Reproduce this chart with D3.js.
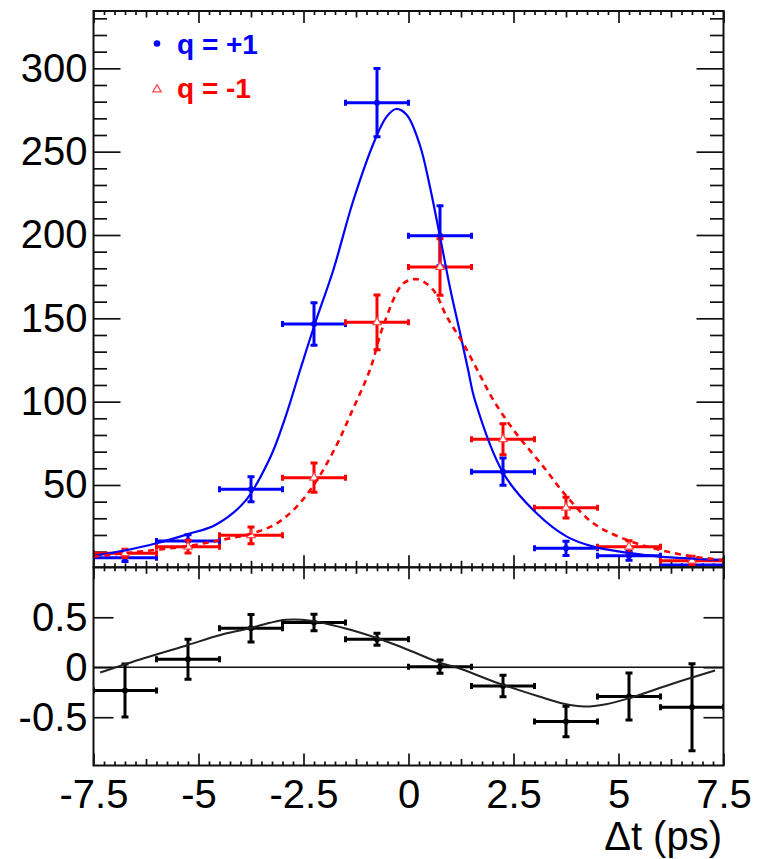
<!DOCTYPE html>
<html>
<head>
<meta charset="utf-8">
<script src="https://cdn.jsdelivr.net/npm/d3@7"></script>
<style>
  html, body { margin: 0; padding: 0; background: #fff; }
  svg { display: block; }
</style>
</head>
<body>
<svg id="chart" width="758" height="859"></svg>
<script>
// Δt bins (ps): bin centres and common bin width
const binCenters = [-6.75, -5.25, -3.75, -2.25, -0.75, 0.75, 2.25, 3.75, 5.25, 6.75];
const binWidth = 1.5;

// Event yields per bin, q = +1
const plusCounts = [6.4, 16.4, 47.4, 146.6, 279.4, 199.6, 58.0, 12.0, 7.6, 2.0];
const plusErrors = [2.3, 3.8, 7.5, 12.8, 20.5, 18.0, 8.2, 4.3, 2.7, 1.2];

// Event yields per bin, q = -1
const minusCounts = [9.0, 13.0, 19.8, 54.4, 147.6, 180.8, 77.4, 36.4, 13.0, 4.6];
const minusErrors = [2.5, 3.8, 5.0, 8.8, 16.4, 17.0, 9.3, 6.2, 3.6, 2.6];

// Fitted Δt distribution, q = +1 (sampled)
const plusFitT = [-7.5, -6.8, -6.0, -5.25, -4.6, -3.9, -3.3, -2.94, -2.58, -2.23, -1.79, -1.31, -0.8, -0.52, -0.3, -0.04, 0.27, 0.51, 0.75, 1.0, 1.23, 1.42, 1.58, 2.26, 3.05, 3.77, 4.4, 5.2, 5.99, 7.5];
const plusFitN = [7.5, 10.5, 15.0, 20.5, 26.0, 40.0, 66.0, 90.0, 119.0, 146.6, 179.0, 221.0, 257.0, 271.0, 275.6, 272.0, 254.0, 229.0, 199.0, 167.0, 141.0, 119.0, 101.0, 57.0, 33.0, 19.0, 13.0, 9.4, 7.0, 5.0];

// Fitted Δt distribution, q = -1 (sampled)
const minusFitT = [-7.5, -6.6, -5.24, -4.46, -3.8, -3.2, -2.7, -2.23, -1.75, -1.35, -0.92, -0.58, -0.12, 0.22, 0.59, 0.91, 1.3, 1.7, 2.02, 2.5, 3.21, 3.77, 4.4, 5.2, 5.99, 6.78, 7.5];
const minusFitN = [7.0, 9.5, 13.4, 17.0, 20.5, 26.0, 36.0, 51.0, 72.0, 94.0, 119.0, 147.0, 171.0, 173.4, 167.0, 151.0, 135.0, 116.0, 101.0, 83.0, 61.0, 43.0, 27.0, 17.0, 11.0, 7.0, 5.0];

// Charge asymmetry per bin
const asymValues = [-0.233, 0.08, 0.39, 0.447, 0.28, 0.006, -0.187, -0.543, -0.293, -0.40];
const asymErrors = [0.265, 0.20, 0.137, 0.083, 0.06, 0.067, 0.108, 0.153, 0.236, 0.436];

// Fitted asymmetry (sampled)
const asymFitT = [-7.34, -6.3, -5.25, -4.5, -3.79, -3.3, -2.91, -2.33, -1.36, -0.6, 0.0, 0.78, 1.17, 2.14, 3.11, 3.7, 4.19, 4.7, 5.25, 6.32, 7.3];
const asymFitA = [-0.053, 0.09, 0.223, 0.32, 0.39, 0.445, 0.475, 0.466, 0.373, 0.27, 0.173, 0.04, -0.005, -0.16, -0.293, -0.365, -0.393, -0.37, -0.31, -0.16, -0.033];

// Axis ticks and labels
const xTickValues = [-7.5, -5, -2.5, 0, 2.5, 5, 7.5];
const countTickValues = [50, 100, 150, 200, 250, 300];
const asymTickValues = [-0.5, 0, 0.5];
const legendLabels = ["q = +1", "q = -1"];
const xAxisTitle = "\u0394t (ps)";

// ---------------------------------------------------------------
const FONT = '"Liberation Sans", Arial, Helvetica, sans-serif';
const BLUE = "#0000ff", RED = "#ff0000", INK = "#111";
const L = 93.5, R = 723.5, T = 11, M = 567.3, B = 765.5;

const svg = d3.select("#chart");

const x = d3.scaleLinear().domain([-7.5, 7.5]).range([L, R]);
const yTop = d3.scaleLinear().domain([0.6, 334.4]).range([M, T]);
const yBot = d3.scaleLinear().domain([-0.983, 1.0]).range([B, M]);

// tick sets along Δt: major every 2.5, medium halfway, minor every 0.25
const xMajor = d3.range(-7.5, 7.51, 2.5);
const xMedium = d3.range(-6.25, 7.5, 2.5);
const xMinor = d3.range(-7.25, 7.5, 0.25).filter(v =>
  !xMajor.some(m => Math.abs(m - v) < 1e-6) && !xMedium.some(m => Math.abs(m - v) < 1e-6));
const yTopMinor = d3.range(10, 334, 10).filter(v => v % 50 !== 0);

function tickGroup(axis, transform) {
  const g = svg.append("g").attr("transform", transform).call(axis);
  g.select(".domain").remove();
  g.selectAll(".tick line").attr("stroke", INK).attr("stroke-width", 1.7);
  g.selectAll(".tick text").remove();
  return g;
}

function xTicks(y, dir) {
  const mk = dir === "down" ? d3.axisBottom : d3.axisTop;
  [[xMajor, 12], [xMedium, 6.5], [xMinor, 4]].forEach(([vals, len]) => {
    tickGroup(mk(x).tickValues(vals).tickSize(len).tickFormat(""), `translate(0,${y})`);
  });
}

// x ticks on all horizontal frame edges
xTicks(T, "down");
xTicks(M, "up");
xTicks(M, "down");
xTicks(B, "up");

// y ticks, upper pad (both sides, pointing inward)
tickGroup(d3.axisRight(yTop).tickValues(countTickValues).tickSize(27).tickFormat(""), `translate(${L},0)`);
tickGroup(d3.axisRight(yTop).tickValues(yTopMinor).tickSize(13.5).tickFormat(""), `translate(${L},0)`);
tickGroup(d3.axisLeft(yTop).tickValues(countTickValues).tickSize(27).tickFormat(""), `translate(${R},0)`);
tickGroup(d3.axisLeft(yTop).tickValues(yTopMinor).tickSize(13.5).tickFormat(""), `translate(${R},0)`);

// y ticks, lower pad
tickGroup(d3.axisRight(yBot).tickValues(asymTickValues).tickSize(20).tickFormat(""), `translate(${L},0)`);
tickGroup(d3.axisLeft(yBot).tickValues(asymTickValues).tickSize(20).tickFormat(""), `translate(${R},0)`);

// tick labels
function labelAxis(axis, transform) {
  const g = svg.append("g").attr("transform", transform).call(axis);
  g.select(".domain").remove();
  g.selectAll(".tick line").remove();
  g.selectAll(".tick text")
    .attr("fill", "#000")
    .style("font-family", FONT)
    .style("font-size", "40px");
  return g;
}
labelAxis(d3.axisBottom(x).tickValues(xTickValues).tickSize(0).tickPadding(14).tickFormat(d => String(d)),
  `translate(0,${B})`);
labelAxis(d3.axisLeft(yTop).tickValues(countTickValues).tickSize(0).tickPadding(6).tickFormat(d => String(d)),
  `translate(${L},0)`);
labelAxis(d3.axisLeft(yBot).tickValues(asymTickValues).tickSize(0).tickPadding(6).tickFormat(d => String(d)),
  `translate(${L},0)`);

// axis title
svg.append("text")
  .attr("x", 722).attr("y", 850)
  .attr("text-anchor", "end")
  .style("font-family", FONT).style("font-size", "40px")
  .text(xAxisTitle);

// clipping regions for the two pads
const defs = svg.append("defs");
defs.append("clipPath").attr("id", "clipTop").append("rect")
  .attr("x", L).attr("y", T).attr("width", R - L).attr("height", M - T);
defs.append("clipPath").attr("id", "clipBot").append("rect")
  .attr("x", L).attr("y", M).attr("width", R - L).attr("height", B - M);

const topPad = svg.append("g").attr("clip-path", "url(#clipTop)");
const botPad = svg.append("g").attr("clip-path", "url(#clipBot)");

// error-bar crosses with end caps
function errorCrosses(g, yScale, values, errors, color) {
  const cap = 3.5, hcap = 3;
  const pts = g.append("g").attr("stroke", color).attr("stroke-width", 3).attr("fill", "none");
  binCenters.forEach((c, i) => {
    const x0 = x(c - binWidth / 2), x1 = x(c + binWidth / 2), xc = x(c);
    const yv = yScale(values[i]);
    const ylo = yScale(values[i] - errors[i]), yhi = yScale(values[i] + errors[i]);
    const p = d3.path();
    p.moveTo(x0, yv); p.lineTo(x1, yv);
    p.moveTo(xc, ylo); p.lineTo(xc, yhi);
    p.moveTo(xc - cap, ylo); p.lineTo(xc + cap, ylo);
    p.moveTo(xc - cap, yhi); p.lineTo(xc + cap, yhi);
    p.moveTo(x0, yv - hcap); p.lineTo(x0, yv + hcap);
    p.moveTo(x1, yv - hcap); p.lineTo(x1, yv + hcap);
    pts.append("path").attr("d", p.toString());
  });
}

const triangle = d3.symbol().type(d3.symbolTriangle).size(30);

// q = +1 points
errorCrosses(topPad, yTop, plusCounts, plusErrors, BLUE);
topPad.append("g").selectAll("circle").data(binCenters).join("circle")
  .attr("cx", d => x(d)).attr("cy", (d, i) => yTop(plusCounts[i]))
  .attr("r", 3).attr("fill", BLUE);

// q = -1 points
errorCrosses(topPad, yTop, minusCounts, minusErrors, RED);
topPad.append("g").selectAll("path").data(binCenters).join("path")
  .attr("d", triangle)
  .attr("transform", (d, i) => `translate(${x(d)},${yTop(minusCounts[i])})`)
  .attr("fill", "#fff").attr("stroke", "#ff4d4d").attr("stroke-width", 1.2);

// fitted curves
const lineTop = d3.line().x(d => x(d[0])).y(d => yTop(d[1])).curve(d3.curveCatmullRom.alpha(0.5));
topPad.append("path")
  .attr("d", lineTop(d3.zip(plusFitT, plusFitN)))
  .attr("fill", "none").attr("stroke", BLUE).attr("stroke-width", 2.2);
topPad.append("path")
  .attr("d", lineTop(d3.zip(minusFitT, minusFitN)))
  .attr("fill", "none").attr("stroke", RED).attr("stroke-width", 2.6)
  .attr("stroke-dasharray", "6,5");

// asymmetry pad: zero line, points, fit
botPad.append("line")
  .attr("x1", L).attr("x2", R).attr("y1", yBot(0)).attr("y2", yBot(0))
  .attr("stroke", INK).attr("stroke-width", 1.5);
errorCrosses(botPad, yBot, asymValues, asymErrors, "#000");
botPad.append("g").selectAll("circle").data(binCenters).join("circle")
  .attr("cx", d => x(d)).attr("cy", (d, i) => yBot(asymValues[i]))
  .attr("r", 3).attr("fill", "#000");
const lineBot = d3.line().x(d => x(d[0])).y(d => yBot(d[1])).curve(d3.curveCatmullRom.alpha(0.5));
botPad.append("path")
  .attr("d", lineBot(d3.zip(asymFitT, asymFitA)))
  .attr("fill", "none").attr("stroke", "#222").attr("stroke-width", 2);

// frames
svg.append("rect").attr("x", L).attr("y", T).attr("width", R - L).attr("height", M - T)
  .attr("fill", "none").attr("stroke", INK).attr("stroke-width", 2);
svg.append("rect").attr("x", L).attr("y", M).attr("width", R - L).attr("height", B - M)
  .attr("fill", "none").attr("stroke", INK).attr("stroke-width", 2);

// legend
const legend = svg.append("g");
legend.append("circle").attr("cx", 157).attr("cy", 43.5).attr("r", 3.3).attr("fill", BLUE);
legend.append("path").attr("d", triangle).attr("transform", "translate(157,89.5)")
  .attr("fill", "#fff").attr("stroke", "#ff4d4d").attr("stroke-width", 1.3);
legend.selectAll("text").data(legendLabels).join("text")
  .attr("x", 177).attr("y", (d, i) => 54 + i * 44)
  .attr("fill", (d, i) => i === 0 ? BLUE : RED)
  .style("font-family", FONT).style("font-weight", "bold").style("font-size", "28px")
  .text(d => d);
</script>
</body>
</html>
